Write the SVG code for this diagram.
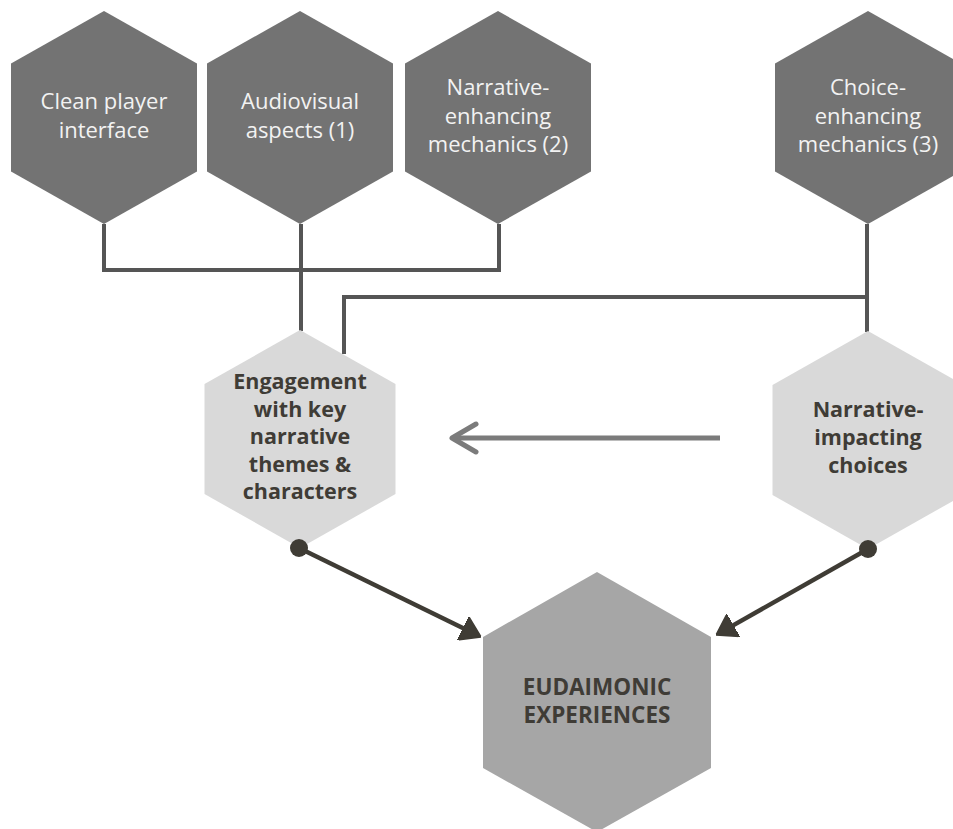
<svg xmlns="http://www.w3.org/2000/svg" width="953" height="829" viewBox="0 0 953 829">
  <style>
    .hexDark { fill: #737373; }
    .hexLight { fill: #d9d9d9; }
    .hexMid { fill: #a6a6a6; }
    .tDark { font-family: "Open Sans", "Liberation Sans", sans-serif; font-size: 22px; fill: #f2f2f2; text-anchor: middle; }
    .tBold { font-family: "Open Sans", "Liberation Sans", sans-serif; font-size: 21.5px; font-weight: bold; fill: #3f3c36; text-anchor: middle; }
    .tBig { font-family: "Open Sans", "Liberation Sans", sans-serif; font-size: 22.5px; font-weight: bold; fill: #3f3c36; text-anchor: middle; }
    .link { fill: none; stroke: #555555; stroke-width: 4; }
    .flow { fill: none; stroke: #3f3c35; stroke-width: 4.5; }
    .back { fill: none; stroke: #7b7b7b; stroke-width: 5; }
    .dot { fill: #3f3c35; }
  </style>
  <defs>
    <marker id="tri" viewBox="0 0 20 26" refX="10" refY="13" markerWidth="20" markerHeight="26" markerUnits="userSpaceOnUse" orient="auto">
      <path d="M0,0 L20,13 L0,26 Z" fill="#3f3c35" stroke="#3f3c35" stroke-width="1.5" stroke-linejoin="round"/>
    </marker>
    <marker id="chev" viewBox="-28 -18 34 36" refX="0" refY="0" markerWidth="34" markerHeight="36" markerUnits="userSpaceOnUse" orient="auto">
      <path d="M-24,-14 L0,0 L-24,14" fill="none" stroke="#7b7b7b" stroke-width="5" stroke-linecap="round" stroke-linejoin="round"/>
    </marker>
  </defs>

  <g id="connectors">
    <path class="link" d="M104,224 V270 H499 V224"/>
    <path class="link" d="M301,224 V331"/>
    <path class="link" d="M867,224 V332"/>
    <path class="link" d="M867,297 H344 V354"/>
    <path class="back" d="M720,438 H452" marker-end="url(#chev)"/>
    <path class="flow" d="M299,548 L472,632.6" marker-end="url(#tri)"/>
    <path class="flow" d="M868,549 L724.7,630.1" marker-end="url(#tri)"/>
  </g>

  <g id="clean-player-interface">
    <polygon class="hexDark" points="104,11 197,63.5 197,171.5 104,224 11,171.5 11,63.5"/>
    <text class="tDark" x="104" y="109">Clean player</text>
    <text class="tDark" x="104" y="137.5">interface</text>
  </g>

  <g id="audiovisual-aspects">
    <polygon class="hexDark" points="300,11 393,63.5 393,171.5 300,224 207,171.5 207,63.5"/>
    <text class="tDark" x="300" y="109">Audiovisual</text>
    <text class="tDark" x="300" y="137.5">aspects (1)</text>
  </g>

  <g id="narrative-enhancing-mechanics">
    <polygon class="hexDark" points="498,11 591,63.5 591,171.5 498,224 405,171.5 405,63.5"/>
    <text class="tDark" x="498" y="95">Narrative-</text>
    <text class="tDark" x="498" y="123.5">enhancing</text>
    <text class="tDark" x="498" y="152">mechanics (2)</text>
  </g>

  <g id="choice-enhancing-mechanics">
    <polygon class="hexDark" points="868,11 961,63.5 961,171.5 868,224 775,171.5 775,63.5"/>
    <text class="tDark" x="868" y="95">Choice-</text>
    <text class="tDark" x="868" y="123.5">enhancing</text>
    <text class="tDark" x="868" y="152">mechanics (3)</text>
  </g>

  <g id="engagement">
    <polygon class="hexLight" points="300,330 395.5,384 395.5,494 300,548 204.5,494 204.5,384"/>
    <text class="tBold" x="300" y="389">Engagement</text>
    <text class="tBold" x="300" y="416.5">with key</text>
    <text class="tBold" x="300" y="444">narrative</text>
    <text class="tBold" x="300" y="471.5">themes &amp;</text>
    <text class="tBold" x="300" y="499">characters</text>
  </g>

  <g id="narrative-impacting-choices">
    <polygon class="hexLight" points="868,331 963.5,385 963.5,495 868,549 772.5,495 772.5,385"/>
    <text class="tBold" x="868" y="417">Narrative-</text>
    <text class="tBold" x="868" y="445">impacting</text>
    <text class="tBold" x="868" y="473">choices</text>
  </g>

  <g id="eudaimonic-experiences">
    <polygon class="hexMid" points="597,572 711,637 711,768 597,832 483,768 483,637"/>
    <text class="tBig" x="597" y="695">EUDAIMONIC</text>
    <text class="tBig" x="597" y="723">EXPERIENCES</text>
  </g>

  <g id="dots">
    <circle class="dot" cx="299" cy="548" r="9"/>
    <circle class="dot" cx="868" cy="549" r="9"/>
  </g>
</svg>
